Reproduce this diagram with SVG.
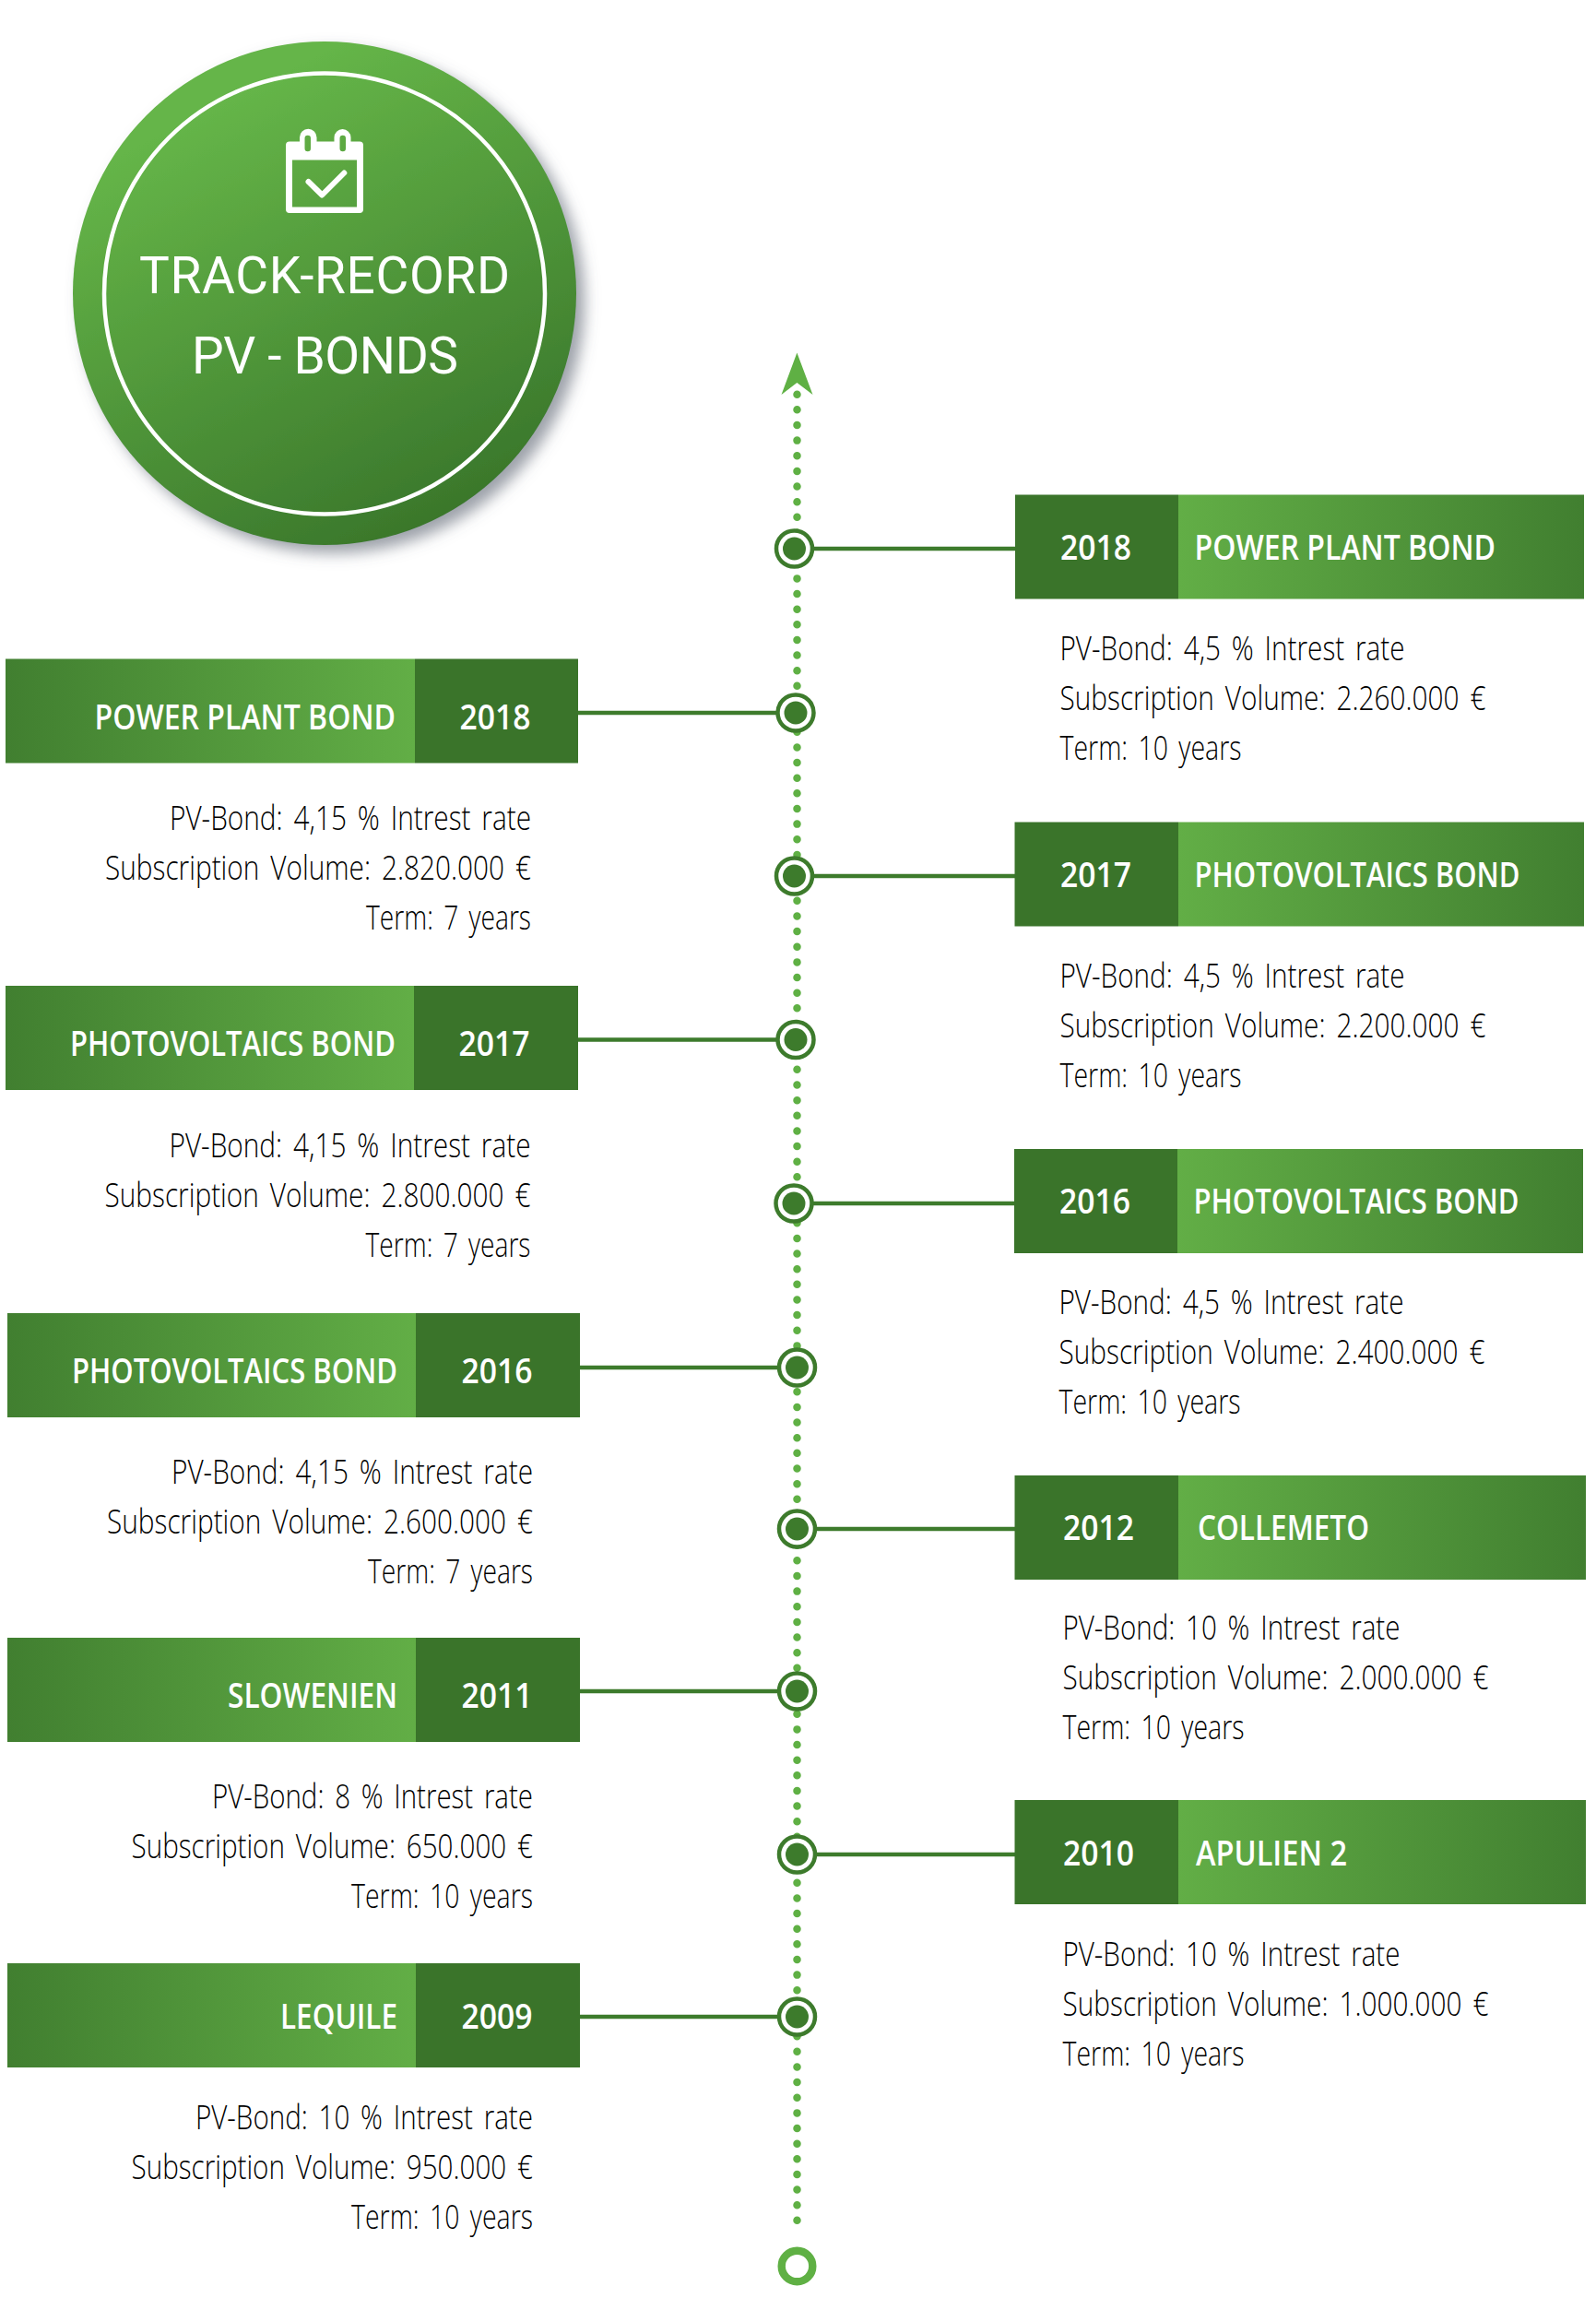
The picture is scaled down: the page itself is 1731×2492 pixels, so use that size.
<svg xmlns="http://www.w3.org/2000/svg" width="1731" height="2492" viewBox="0 0 1731 2492">
<style>
text{font-family:"Open Sans","Liberation Sans",sans-serif}
.t{fill:#fff;font-size:38px;font-weight:600}
.b{fill:#000;font-size:36px;font-weight:300;word-spacing:5px}
.e{text-anchor:end}
.h{fill:#fff;font-family:Roboto,"Liberation Sans",sans-serif;font-size:55px}
.d{fill:#3a742a}
.c{fill:#3d7b2c}
.l{stroke:#3d7b2c;stroke-width:4.5;fill:none}
.rg{fill:#fff;stroke:#3d7b2c;stroke-width:4.5}
</style>
<defs>
<linearGradient id="gr" x1="0" x2="1" y1="0" y2="0"><stop offset="0" stop-color="#62ae46"/><stop offset="1" stop-color="#417f30"/></linearGradient>
<linearGradient id="gl" x1="0" x2="1" y1="0" y2="0"><stop offset="0" stop-color="#417f30"/><stop offset="1" stop-color="#62ae46"/></linearGradient>
<linearGradient id="gc" x1="0.3" y1="0.12" x2="0.72" y2="0.95"><stop offset="0" stop-color="#65b548"/><stop offset="1" stop-color="#3a772b"/></linearGradient>
<filter id="sh" x="-10%" y="-10%" width="125%" height="125%"><feDropShadow dx="9" dy="9" stdDeviation="8" flood-color="#5b6470" flood-opacity="0.6"/></filter>
<g id="mk"><circle r="19.500" class="rg"/><circle r="12.500" class="c"/></g>
</defs>
<g id="connectors">
<line x1="864.500" y1="427.700" x2="864.500" y2="2424.400" stroke="#5fb044" stroke-width="8.500" stroke-linecap="round" stroke-dasharray="0 16.640"/>
<path d="M864.400 382.500L881.500 428L864.400 415L847.500 428Z" fill="#5fb044"/>
<path class="l" d="M882 595H1101M883 950H1101M881 1305H1101M884 1658H1101M884 2011H1101M627 773H844M627 1127.500H844M629 1483H845M629 1834H845M629 2187H845"/>
</g>
<g id="title-badge">
<circle cx="352" cy="318" r="273" fill="url(#gc)" filter="url(#sh)"/>
<circle cx="352" cy="318.500" r="239" fill="none" stroke="#fff" stroke-width="4.500"/>
<path fill="#fff" fill-rule="evenodd" d="M314 153.500H325V149A9 9 0 0 1 343.500 149V153.500H362.500V149A9 9 0 0 1 380.500 149V153.500H390A4 4 0 0 1 394 157.500V227A4 4 0 0 1 390 231H314A4 4 0 0 1 310 227V157.500A4 4 0 0 1 314 153.500ZM317 173.500V224.500H387V173.500ZM330.500 150V161A3.200 3.200 0 0 0 337 161V150A3.200 3.200 0 0 0 330.500 150ZM368.500 150V161A3.200 3.200 0 0 0 375 161V150A3.200 3.200 0 0 0 368.500 150Z"/>
<path fill="none" stroke="#fff" stroke-width="6" stroke-linecap="round" stroke-linejoin="round" d="M334.500 197L349.300 211.500L373.300 187.500"/>
<text class="h" x="151" y="317.500" textLength="402" lengthAdjust="spacing">TRACK-RECORD</text>
<text class="h" x="208" y="404.500" textLength="289" lengthAdjust="spacing">PV - BONDS</text>
</g>
<g id="r2018">
<rect x="1278" y="536.500" width="440" height="113" fill="url(#gr)"/><rect x="1101" y="536.500" width="177" height="113" class="d"/>
<text class="t" x="1150" y="606.500" textLength="77" lengthAdjust="spacingAndGlyphs">2018</text>
<text class="t" x="1295.500" y="606.500" textLength="326.500" lengthAdjust="spacingAndGlyphs">POWER PLANT BOND</text>
<text class="b" x="1149.500" y="716" textLength="374" lengthAdjust="spacingAndGlyphs">PV-Bond: 4,5 % Intrest rate</text>
<text class="b" x="1149.500" y="770" textLength="462" lengthAdjust="spacingAndGlyphs">Subscription Volume: 2.260.000 €</text>
<text class="b" x="1149.500" y="824" textLength="197" lengthAdjust="spacingAndGlyphs">Term: 10 years</text>
<use href="#mk" x="861.500" y="595"/>
</g>
<g id="r2017">
<rect x="1278" y="891.500" width="440" height="113" fill="url(#gr)"/><rect x="1100.500" y="891.500" width="177.500" height="113" class="d"/>
<text class="t" x="1150" y="961.500" textLength="77" lengthAdjust="spacingAndGlyphs">2017</text>
<text class="t" x="1295.500" y="961.500" textLength="353" lengthAdjust="spacingAndGlyphs">PHOTOVOLTAICS BOND</text>
<text class="b" x="1149.500" y="1070.500" textLength="374" lengthAdjust="spacingAndGlyphs">PV-Bond: 4,5 % Intrest rate</text>
<text class="b" x="1149.500" y="1124.500" textLength="462" lengthAdjust="spacingAndGlyphs">Subscription Volume: 2.200.000 €</text>
<text class="b" x="1149.500" y="1178.500" textLength="197" lengthAdjust="spacingAndGlyphs">Term: 10 years</text>
<use href="#mk" x="861.500" y="950"/>
</g>
<g id="r2016">
<rect x="1277" y="1246" width="440" height="113" fill="url(#gr)"/><rect x="1100" y="1246" width="177" height="113" class="d"/>
<text class="t" x="1149" y="1316" textLength="77" lengthAdjust="spacingAndGlyphs">2016</text>
<text class="t" x="1294.500" y="1316" textLength="353" lengthAdjust="spacingAndGlyphs">PHOTOVOLTAICS BOND</text>
<text class="b" x="1148.500" y="1425" textLength="374" lengthAdjust="spacingAndGlyphs">PV-Bond: 4,5 % Intrest rate</text>
<text class="b" x="1148.500" y="1479" textLength="462" lengthAdjust="spacingAndGlyphs">Subscription Volume: 2.400.000 €</text>
<text class="b" x="1148.500" y="1533" textLength="197" lengthAdjust="spacingAndGlyphs">Term: 10 years</text>
<use href="#mk" x="861" y="1305"/>
</g>
<g id="r2012">
<rect x="1278" y="1600" width="442" height="113" fill="url(#gr)"/><rect x="1100.500" y="1600" width="177.500" height="113" class="d"/>
<text class="t" x="1153" y="1670" textLength="77" lengthAdjust="spacingAndGlyphs">2012</text>
<text class="t" x="1299" y="1670" textLength="186" lengthAdjust="spacingAndGlyphs">COLLEMETO</text>
<text class="b" x="1152.500" y="1778" textLength="366" lengthAdjust="spacingAndGlyphs">PV-Bond: 10 % Intrest rate</text>
<text class="b" x="1152.500" y="1832" textLength="462" lengthAdjust="spacingAndGlyphs">Subscription Volume: 2.000.000 €</text>
<text class="b" x="1152.500" y="1886" textLength="197" lengthAdjust="spacingAndGlyphs">Term: 10 years</text>
<use href="#mk" x="864.500" y="1658"/>
</g>
<g id="r2010">
<rect x="1278" y="1952" width="442" height="113" fill="url(#gr)"/><rect x="1100.500" y="1952" width="177.500" height="113" class="d"/>
<text class="t" x="1153" y="2022.500" textLength="77" lengthAdjust="spacingAndGlyphs">2010</text>
<text class="t" x="1297" y="2022.500" textLength="164" lengthAdjust="spacingAndGlyphs">APULIEN 2</text>
<text class="b" x="1152.500" y="2131.500" textLength="366" lengthAdjust="spacingAndGlyphs">PV-Bond: 10 % Intrest rate</text>
<text class="b" x="1152.500" y="2185.500" textLength="462" lengthAdjust="spacingAndGlyphs">Subscription Volume: 1.000.000 €</text>
<text class="b" x="1152.500" y="2239.500" textLength="197" lengthAdjust="spacingAndGlyphs">Term: 10 years</text>
<use href="#mk" x="864.500" y="2011"/>
</g>
<g id="l2018">
<rect x="6" y="714.500" width="444" height="113" fill="url(#gl)"/><rect x="450" y="714.500" width="177" height="113" class="d"/>
<text class="t" x="102.500" y="790.500" textLength="326.500" lengthAdjust="spacingAndGlyphs">POWER PLANT BOND</text>
<text class="t" x="498.500" y="790.500" textLength="77" lengthAdjust="spacingAndGlyphs">2018</text>
<text class="b e" x="576" y="900" textLength="392" lengthAdjust="spacingAndGlyphs">PV-Bond: 4,15 % Intrest rate</text>
<text class="b e" x="576" y="954" textLength="462" lengthAdjust="spacingAndGlyphs">Subscription Volume: 2.820.000 €</text>
<text class="b e" x="576" y="1008" textLength="179" lengthAdjust="spacingAndGlyphs">Term: 7 years</text>
<use href="#mk" x="863" y="773"/>
</g>
<g id="l2017">
<rect x="6" y="1069" width="443" height="113" fill="url(#gl)"/><rect x="449" y="1069" width="178" height="113" class="d"/>
<text class="t" x="76" y="1145" textLength="353" lengthAdjust="spacingAndGlyphs">PHOTOVOLTAICS BOND</text>
<text class="t" x="497.500" y="1145" textLength="77" lengthAdjust="spacingAndGlyphs">2017</text>
<text class="b e" x="575.500" y="1254.500" textLength="392" lengthAdjust="spacingAndGlyphs">PV-Bond: 4,15 % Intrest rate</text>
<text class="b e" x="575.500" y="1308.500" textLength="462" lengthAdjust="spacingAndGlyphs">Subscription Volume: 2.800.000 €</text>
<text class="b e" x="575.500" y="1362.500" textLength="179" lengthAdjust="spacingAndGlyphs">Term: 7 years</text>
<use href="#mk" x="863" y="1127.500"/>
</g>
<g id="l2016">
<rect x="8" y="1424" width="443" height="113" fill="url(#gl)"/><rect x="451" y="1424" width="178" height="113" class="d"/>
<text class="t" x="78" y="1500" textLength="353" lengthAdjust="spacingAndGlyphs">PHOTOVOLTAICS BOND</text>
<text class="t" x="500.500" y="1500" textLength="77" lengthAdjust="spacingAndGlyphs">2016</text>
<text class="b e" x="578" y="1609" textLength="392" lengthAdjust="spacingAndGlyphs">PV-Bond: 4,15 % Intrest rate</text>
<text class="b e" x="578" y="1663" textLength="462" lengthAdjust="spacingAndGlyphs">Subscription Volume: 2.600.000 €</text>
<text class="b e" x="578" y="1717" textLength="179" lengthAdjust="spacingAndGlyphs">Term: 7 years</text>
<use href="#mk" x="864.500" y="1483"/>
</g>
<g id="l2011">
<rect x="8" y="1776" width="443" height="113" fill="url(#gl)"/><rect x="451" y="1776" width="178" height="113" class="d"/>
<text class="t" x="247" y="1852" textLength="184" lengthAdjust="spacingAndGlyphs">SLOWENIEN</text>
<text class="t" x="500.500" y="1852" textLength="77" lengthAdjust="spacingAndGlyphs">2011</text>
<text class="b e" x="578" y="1961" textLength="348" lengthAdjust="spacingAndGlyphs">PV-Bond: 8 % Intrest rate</text>
<text class="b e" x="578" y="2015" textLength="435.500" lengthAdjust="spacingAndGlyphs">Subscription Volume: 650.000 €</text>
<text class="b e" x="578" y="2069" textLength="197" lengthAdjust="spacingAndGlyphs">Term: 10 years</text>
<use href="#mk" x="864.500" y="1834"/>
</g>
<g id="l2009">
<rect x="8" y="2129" width="443" height="113" fill="url(#gl)"/><rect x="451" y="2129" width="178" height="113" class="d"/>
<text class="t" x="304" y="2200" textLength="127" lengthAdjust="spacingAndGlyphs">LEQUILE</text>
<text class="t" x="500.500" y="2200" textLength="77" lengthAdjust="spacingAndGlyphs">2009</text>
<text class="b e" x="578" y="2309" textLength="366" lengthAdjust="spacingAndGlyphs">PV-Bond: 10 % Intrest rate</text>
<text class="b e" x="578" y="2363" textLength="435.500" lengthAdjust="spacingAndGlyphs">Subscription Volume: 950.000 €</text>
<text class="b e" x="578" y="2417" textLength="197" lengthAdjust="spacingAndGlyphs">Term: 10 years</text>
<use href="#mk" x="864.500" y="2187"/>
</g>
<g id="start">
<circle cx="864.500" cy="2457.500" r="16.800" fill="#fff" stroke="#5fb044" stroke-width="8.400"/>
</g>
</svg>
